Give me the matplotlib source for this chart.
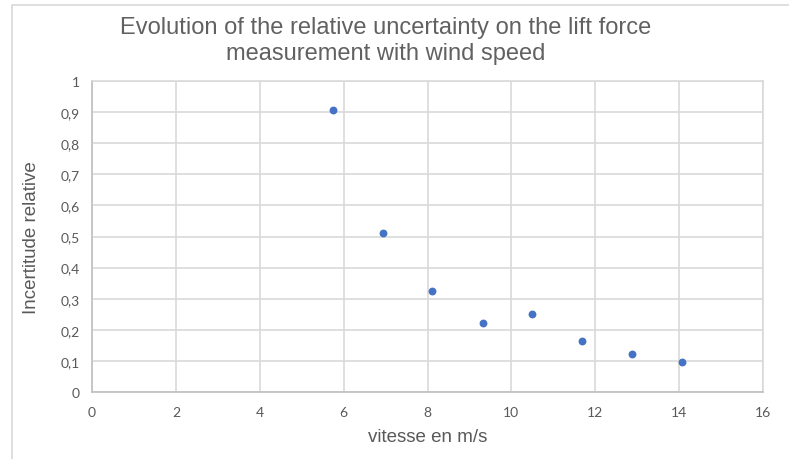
import matplotlib
matplotlib.use("Agg")
import matplotlib.pyplot as plt
from matplotlib.patches import Rectangle

# Wind speed (m/s) and relative uncertainty on the lift force
vitesse = [5.75, 6.94, 8.11, 9.32, 10.49, 11.68, 12.88, 14.07]
incertitude = [0.907, 0.511, 0.325, 0.222, 0.251, 0.164, 0.122, 0.096]

x_ticks = [0, 2, 4, 6, 8, 10, 12, 14, 16]
y_ticks = [0, 0.1, 0.2, 0.3, 0.4, 0.5, 0.6, 0.7, 0.8, 0.9, 1]
y_tick_labels = ["0", "0,1", "0,2", "0,3", "0,4", "0,5", "0,6", "0,7", "0,8", "0,9", "1"]

title = "Evolution of the relative uncertainty on the lift force\nmeasurement with wind speed"
x_label = "vitesse en m/s"
y_label = "Incertitude relative"

text_color = "#595959"
grid_color = "#d9d9d9"
point_color = "#4472C4"

fig = plt.figure(figsize=(7.89, 4.60), dpi=100)
fig.patch.set_facecolor("white")

# chart frame
fig.patches.append(Rectangle((12 / 789, -0.1), 1.2, 1 - 6 / 460 + 0.1,
                             transform=fig.transFigure, fill=False,
                             edgecolor="#d9d9d9", linewidth=1.2))

ax = fig.add_axes([92 / 789, 1 - 393 / 460, (763 - 92) / 789, (393 - 82) / 460])
ax.scatter(vitesse, incertitude, s=32, color=point_color, zorder=3, linewidths=0)

ax.set_xlim(0, 16)
ax.set_ylim(0, 1)
ax.set_xticks(x_ticks)
ax.set_yticks(y_ticks)
ax.set_yticklabels(y_tick_labels)
ax.grid(True, color=grid_color, linewidth=1.2)
ax.set_axisbelow(True)
for s in ax.spines.values():
    s.set_color(grid_color)
    s.set_linewidth(1.2)
ax.spines["bottom"].set_color("#bfbfbf")
ax.spines["left"].set_color("#bfbfbf")
ax.tick_params(length=0, labelsize=10, colors=text_color)
ax.tick_params(axis="x", pad=10)
ax.tick_params(axis="y", pad=9)
for lab in ax.get_xticklabels() + ax.get_yticklabels():
    lab.set_fontfamily("Lato")

fig.text(386 / 789, 1 - 41 / 460, title, ha="center", va="center",
         fontsize=17, color="#616161", family="Liberation Sans",
         linespacing=1.2)
fig.text(428 / 789, 1 - 438 / 460, x_label, ha="center", va="center",
         fontsize=13.5, color=text_color, family="Liberation Sans")
fig.text(32 / 789, 1 - 238 / 460, y_label, ha="center", va="center",
         rotation=90, fontsize=13.5, color=text_color, family="Liberation Sans")

fig.savefig("out.png", dpi=100)
